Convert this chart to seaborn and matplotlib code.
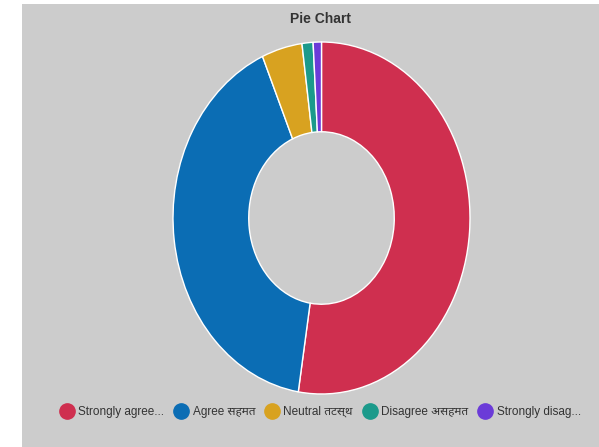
import matplotlib
matplotlib.use("Agg")
import matplotlib.pyplot as plt
import seaborn as sns
from matplotlib.lines import Line2D
from matplotlib.patches import Rectangle

# data
labels = ["Strongly agree...", "Agree सहमत", "Neutral तटस्थ", "Disagree असहमत", "Strongly disag..."]
values = [52.5, 41.0, 4.4, 1.2, 0.9]
colors = ["#cf2f4f", "#0b6db4", "#d8a220", "#1b9a8b", "#6b3bd8"]

sns.set_style("white")
plt.rcParams["font.family"] = ["Liberation Sans", "Noto Sans", "DejaVu Sans"]
pal = sns.color_palette(colors)

fig = plt.figure(figsize=(5.99, 4.47), dpi=100)
fig.patch.set_facecolor("white")
fig.patches.append(Rectangle((22 / 599, 0), 1, (447 - 4) / 447, transform=fig.transFigure,
                             facecolor="#cccccc", edgecolor="none", zorder=-5))

# the reference donut is squashed horizontally (297 x 352 px)
ax = fig.add_axes([173 / 599, 53 / 447, 297 / 599, 352 / 447])
ax.set_facecolor("none")
ax.pie(values, colors=pal, startangle=90, counterclock=False, radius=1,
       wedgeprops=dict(width=0.51, edgecolor="white", linewidth=1))
ax.set_xlim(-1, 1)
ax.set_ylim(-1, 1)
ax.set_aspect("auto")
ax.axis("off")

fig.text(321 / 599, 1 - 19 / 447, "Pie Chart", ha="center", va="center",
         fontsize=10, fontweight="bold", color="#333333")

handles = [Line2D([], [], marker="o", linestyle="none", markersize=11,
                  markerfacecolor=c, markeredgecolor=c) for c in pal]
fig.legend(handles, labels, loc="center", bbox_to_anchor=(320 / 599, 1 - 412 / 447),
           ncol=5, frameon=False, fontsize=8.5, handletextpad=0.3, columnspacing=0.8,
           handlelength=1.3, labelcolor="#333333")

fig.savefig("out.png", dpi=100)
